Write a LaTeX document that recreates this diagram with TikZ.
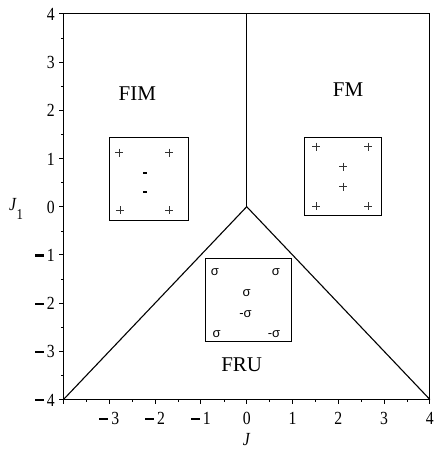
\documentclass[tikz,border=0pt]{standalone}
\usepackage{fontspec}
\setmainfont{Liberation Serif}
\newfontfamily\sansf{Liberation Sans}
\newfontfamily\tickfont[FakeStretch=0.85]{Liberation Serif}
\newcommand{\mymn}{\rule[0.27em]{0.48em}{0.11em}\hspace{0.16em}}
\begin{document}
\begin{tikzpicture}[x=1pt,y=-1pt,
  axisline/.style={line width=0.9pt},
  phaseline/.style={line width=1.1pt},
  tickl/.style={font=\tickfont\fontsize{18.5}{18.5}\selectfont, inner sep=0pt},
  region/.style={font=\fontsize{21}{21}\selectfont, inner sep=0pt},
  sig/.style={font=\sansf\fontsize{13}{13}\selectfont, inner sep=0pt},
  plusmark/.style={line width=0.5pt, black!80}
]
\useasboundingbox (0,0) rectangle (435,449);
% frame corners
\coordinate (BL) at (63.5,399.5);
\coordinate (BR) at (429.9,399.5);
\coordinate (TL) at (63.5,13.9);
\coordinate (TR) at (429.9,13.9);
\coordinate (O) at (246.7,206.7);
\coordinate (Top) at (246.7,13.9);
% frame
\draw[axisline] (TL) -- (BL) -- (BR) -- (TR) -- cycle;
% x ticks
\foreach \v in {-4,...,4} {
  \draw[axisline] ({246.7+45.8*\v},399.5) -- ++(0,4.5);
}
\foreach \v in {-3.5,-2.5,...,3.5} {
  \draw[line width=0.6pt] ({246.7+45.8*\v},399.5) -- ++(0,2.5);
}
\foreach \v/\t in {-3/{\mymn 3},-2/{\mymn 2},-1/{\mymn 1},0/0,1/1,2/2,3/3,4/4} {
  \node[tickl] (xl\v) at ({246.7+45.8*\v},418.5) {\t};
}
% y ticks
\foreach \v in {-4,...,4} {
  \draw[axisline] (63.5,{206.7-48.2*\v}) -- ++(-4.5,0);
}
\foreach \v in {-3.5,-2.5,...,3.5} {
  \draw[line width=0.6pt] (63.5,{206.7-48.2*\v}) -- ++(-2.5,0);
}
\foreach \v/\t in {-4/{\mymn 4},-3/{\mymn 3},-2/{\mymn 2},-1/{\mymn 1},0/0,1/1,2/2,3/3,4/4} {
  \node[tickl, anchor=east] (yl\v) at (55,{207.2-48.2*\v}) {\t};
}
% axis labels
\node[tickl] (xlab) at (246.7,440) {\textit{J}};
\node[tickl] (ylab) at (16,209) {\textit{J}\raisebox{-1.1ex}{\fontsize{15}{15}\selectfont 1}};
% phase boundaries
\draw[phaseline] (O) -- (Top);
\draw[phaseline] (O) -- (BL);
\draw[phaseline] (O) -- (BR);
% region labels
\node[region] (fim) at (137.3,93.5) {FIM};
\node[region] (fm) at (348,90) {FM};
\node[region] (fru) at (241.7,365) {FRU};
% FIM box
\draw[line width=0.8pt] (109.3,137.3) rectangle (188.3,220.7);
\foreach \p in {(119.3,152.7),(169.3,152.7),(119.8,210),(169.3,210)} {
  \draw[plusmark] \p ++(-4,0) -- ++(8,0);
  \draw[plusmark] \p ++(0,-4) -- ++(0,8);
}
\fill (142.8,171.7) rectangle (147.3,173.7);
\fill (142.8,191.3) rectangle (147.3,193.3);
% FM box
\draw[line width=0.8pt] (304,137.3) rectangle (381.7,215.3);
\foreach \p in {(316,146.7),(368.3,146.7),(343.3,166.7),(343.3,186.7),(316,206),(368.3,206)} {
  \draw[plusmark] \p ++(-4,0) -- ++(8,0);
  \draw[plusmark] \p ++(0,-4) -- ++(0,8);
}
% FRU box
\draw[line width=0.8pt] (205,258.3) rectangle (291.7,341);
\node[sig] (s1) at (215,271.7) {σ};
\node[sig] (s2) at (276,271.7) {σ};
\node[sig] (s3) at (246.7,293.3) {σ};
\node[sig] (s4) at (245.5,314) {-σ};
\node[sig] (s5) at (216.7,334) {σ};
\node[sig] (s6) at (274,334) {-σ};
\end{tikzpicture}
\end{document}
